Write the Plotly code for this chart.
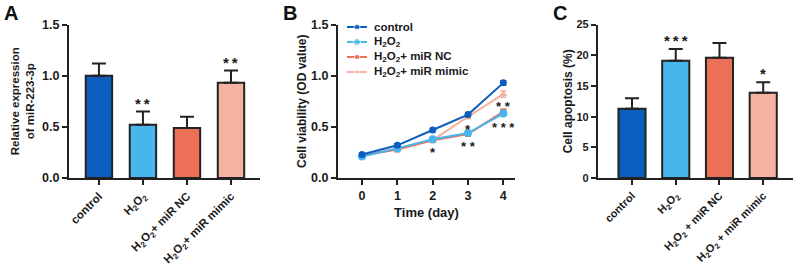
import plotly.graph_objects as go

# ---------------- data ----------------
cats_a = ["control", "H<sub>2</sub>O<sub>2</sub>", "H<sub>2</sub>O<sub>2</sub>+ miR NC",
          "H<sub>2</sub>O<sub>2</sub>+ miR mimic"]
expr_vals = [1.00, 0.52, 0.49, 0.93]
expr_err = [0.12, 0.13, 0.11, 0.12]
expr_stars = ["", "**", "", "**"]

days = [0, 1, 2, 3, 4]
series_names = ["control", "H<sub>2</sub>O<sub>2</sub>", "H<sub>2</sub>O<sub>2</sub>+ miR NC",
                "H<sub>2</sub>O<sub>2</sub>+ miR mimic"]
via_control = [0.23, 0.32, 0.47, 0.62, 0.93]
via_h2o2 = [0.21, 0.29, 0.38, 0.44, 0.63]
via_nc = [0.22, 0.28, 0.37, 0.43, 0.65]
via_mimic = [0.22, 0.29, 0.37, 0.60, 0.82]
err_control = [0.01, 0.015, 0.015, 0.02, 0.02]
err_h2o2 = [0.01, 0.01, 0.015, 0.015, 0.02]
err_nc = [0.01, 0.01, 0.01, 0.015, 0.02]
err_mimic = [0.01, 0.01, 0.015, 0.02, 0.03]
stars_h2o2 = ["", "", "*", "**", "***"]
stars_mimic = ["", "", "", "*", "**"]

cats_c = ["control", "H<sub>2</sub>O<sub>2</sub>", "H<sub>2</sub>O<sub>2</sub> + miR NC",
          "H<sub>2</sub>O<sub>2</sub> + miR mimic"]
apop_vals = [11.3, 19.1, 19.6, 13.9]
apop_err = [1.7, 1.9, 2.4, 1.7]
apop_stars = ["", "***", "", "*"]

colors = ["#0B5EBD", "#47B6EC", "#EC6F57", "#F4B2A0"]

# ---------------- figure ----------------
FONT = "Liberation Sans, Arial, sans-serif"
AX = "#222222"
TXT = "#1a1a1a"
fig = go.Figure()

fig.add_trace(go.Bar(x=cats_a, y=expr_vals, width=0.6,
                     marker=dict(color=colors, line=dict(color=AX, width=2)),
                     error_y=dict(type="data", array=expr_err, arrayminus=[0] * 4, symmetric=False,
                                  color=AX, thickness=2, width=7),
                     showlegend=False, xaxis="x", yaxis="y"))

symbols = ["circle", "circle", "square", "triangle-up"]
msizes = [7, 8, 6, 7]
series_vals = [via_control, via_h2o2, via_nc, via_mimic]
series_errs = [err_control, err_h2o2, err_nc, err_mimic]
order = [3, 2, 1, 0]  # draw control on top
for k in order:
    fig.add_trace(go.Scatter(x=days, y=series_vals[k], name=series_names[k], mode="lines+markers",
                             line=dict(color=colors[k], width=2),
                             marker=dict(symbol=symbols[k], size=msizes[k], color=colors[k]),
                             error_y=dict(type="data", array=series_errs[k], color=colors[k],
                                          thickness=1.5, width=3),
                             showlegend=False, xaxis="x2", yaxis="y2"))

# custom compact legend drawn on its own hidden axis (x4/y4)
LEG_LINE = [7, 17, 27]
for k in range(4):
    fig.add_trace(go.Scatter(x=LEG_LINE, y=[k] * 3, mode="lines+markers", hoverinfo="skip",
                             line=dict(color=colors[k], width=2),
                             marker=dict(symbol=symbols[k], size=[0, msizes[k] - 1, 0], color=colors[k]),
                             showlegend=False, xaxis="x4", yaxis="y4"))

fig.add_trace(go.Bar(x=cats_c, y=apop_vals, width=0.62,
                     marker=dict(color=colors, line=dict(color=AX, width=2)),
                     error_y=dict(type="data", array=apop_err, arrayminus=[0] * 4, symmetric=False,
                                  color=AX, thickness=2, width=7),
                     showlegend=False, xaxis="x3", yaxis="y3"))

ydom = [0.328, 0.9075]


def xax(domain, rng, anchor, fsize=11.5, **kw):
    d = dict(domain=domain, range=rng, anchor=anchor, showline=True, linecolor=AX, linewidth=2,
             ticks="outside", ticklen=5, tickwidth=2, tickcolor=AX, showgrid=False, zeroline=False,
             tickfont=dict(family=FONT, size=fsize, color=TXT, weight="bold"), automargin=False)
    d.update(kw)
    return d


def yax(rng, anchor, dtick, title, standoff, tsize, fsize):
    return dict(domain=ydom, range=rng, anchor=anchor, showline=True, linecolor=AX, linewidth=2,
                ticks="outside", ticklen=5, tickwidth=2, tickcolor=AX, showgrid=False, zeroline=False,
                tickfont=dict(family=FONT, size=fsize, color=TXT, weight="bold"), automargin=False,
                dtick=dtick, tickformat=".1f" if dtick < 1 else "d",
                title=dict(text=title, font=dict(family=FONT, size=tsize, color=TXT, weight="bold"),
                           standoff=standoff))


fig.update_layout(
    width=794, height=265, margin=dict(l=0, r=0, t=0, b=0, autoexpand=False),
    plot_bgcolor="white", paper_bgcolor="white",
    font=dict(family=FONT, color=TXT),
    xaxis=xax([0.0869, 0.3275], [-0.68, 3.66], "y", type="category", tickangle=-45),
    yaxis=yax([0, 1.5], "x", 0.5, "Relative expression<br>of miR-223-3p", 5, 11.5, 12.5),
    xaxis2=xax([0.4257, 0.6486], [-0.68, 4.33], "y2", fsize=12.5, dtick=1,
               title=dict(text="Time (day)", font=dict(family=FONT, size=13, color=TXT, weight="bold"),
                          standoff=6)),
    yaxis2=yax([0, 1.5], "x2", 0.5, "Cell viability (OD value)", 2, 12, 12.5),
    xaxis3=xax([0.753, 0.9987], [-0.78, 3.68], "y3", fsize=11, type="category", tickangle=-45),
    yaxis3=yax([0, 25], "x3", 5, "Cell apoptosis (%)", 1, 12, 11),
    xaxis4=dict(domain=[340 / 794, 480 / 794], range=[0, 140], anchor="y4", visible=False, fixedrange=True),
    yaxis4=dict(domain=[(265 - 80) / 265, (265 - 20) / 265], range=[3.5333, -0.4667], anchor="x4",
                visible=False, fixedrange=True),
)

THIN = "\u2009"
bar_star_font = dict(family=FONT, size=15, color=TXT, weight="bold")
line_star_font = dict(family=FONT, size=13, color=TXT, weight="bold")
anns = []
for c, v, e, s in zip(cats_a, expr_vals, expr_err, expr_stars):
    if s:
        anns.append(dict(x=c, y=v + e, xref="x", yref="y", text=THIN.join(s), showarrow=False,
                         yanchor="bottom", font=bar_star_font, yshift=-2))
for c, v, e, s in zip(cats_c, apop_vals, apop_err, apop_stars):
    if s:
        anns.append(dict(x=c, y=v + e, xref="x3", yref="y3", text=THIN.join(s), showarrow=False,
                         yanchor="bottom", font=bar_star_font, yshift=-2))
for d, v, s in zip(days, via_h2o2, stars_h2o2):
    if s:
        anns.append(dict(x=d, y=v, xref="x2", yref="y2", text=" ".join(s), showarrow=False,
                         yanchor="top", font=line_star_font, yshift=-4))
for d, v, s in zip(days, via_mimic, stars_mimic):
    if s:
        anns.append(dict(x=d, y=v, xref="x2", yref="y2", text=" ".join(s), showarrow=False,
                         yanchor="top", font=line_star_font, yshift=-3))
for k, name in enumerate(series_names):
    anns.append(dict(x=32, y=k, xref="x4", yref="y4", text=name, showarrow=False,
                     xanchor="left", yanchor="middle",
                     font=dict(family=FONT, size=11.5, color=TXT, weight="bold")))
for lbl, px in [("A", 0.003), ("B", 0.354), ("C", 0.694)]:
    anns.append(dict(x=px, y=1.0, xref="paper", yref="paper", text=lbl, showarrow=False,
                     xanchor="left", yanchor="top",
                     font=dict(family=FONT, size=20, color="#111111", weight="bold")))
fig.update_layout(annotations=anns)

fig.write_html("out.html")
